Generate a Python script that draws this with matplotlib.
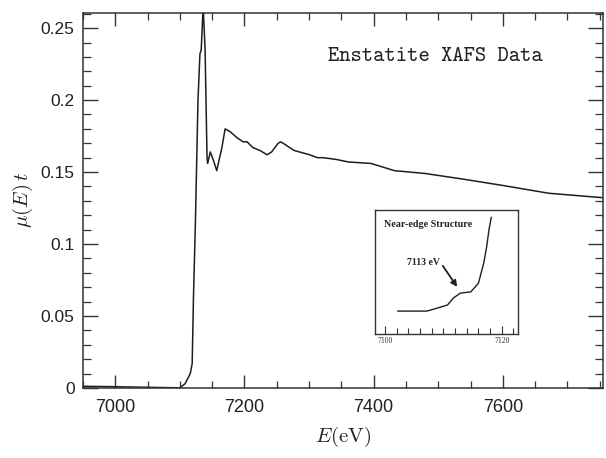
import matplotlib
matplotlib.use("Agg")
import matplotlib.pyplot as plt
from matplotlib.ticker import MultipleLocator, FixedLocator, FixedFormatter

plt.rcParams['mathtext.fontset'] = 'cm'

# Main spectrum (energy in eV, mu(E) t)
energy = [6950, 7000, 7050, 7090, 7100, 7108, 7116, 7119, 7121, 7124, 7128,
          7131, 7133, 7136, 7139, 7142, 7143, 7147, 7152, 7157, 7165, 7170,
          7178, 7188, 7198, 7204, 7213, 7224, 7235, 7242, 7252, 7256, 7260,
          7270, 7277, 7301, 7313, 7322, 7343, 7361, 7396, 7432, 7480, 7540,
          7600, 7671, 7760]
mu_t = [0.0012, 0.0009, 0.0005, 0.0002, 0.0002, 0.003, 0.010, 0.017, 0.063,
        0.115, 0.200, 0.232, 0.235, 0.265, 0.235, 0.160, 0.156, 0.164, 0.158,
        0.151, 0.167, 0.180, 0.178, 0.174, 0.171, 0.171, 0.167, 0.165, 0.162,
        0.164, 0.170, 0.171, 0.170, 0.167, 0.165, 0.162, 0.160, 0.160, 0.1587,
        0.157, 0.156, 0.151, 0.149, 0.145, 0.1407, 0.1353, 0.132]

# Inset: near-edge structure (arbitrary units)
inset_energy = [7102.2, 7107.2, 7109.0, 7110.7, 7111.7, 7112.9, 7114.7,
                7116.0, 7116.9, 7117.4, 7117.8, 7118.2]
inset_signal = [0.185, 0.185, 0.21, 0.234, 0.29, 0.33, 0.34, 0.41, 0.57,
                0.70, 0.84, 0.94]

ytick_vals = [0, 0.05, 0.1, 0.15, 0.2, 0.25]
ytick_labels = ["0", "0.05", "0.1", "0.15", "0.2", "0.25"]
xtick_vals = [7000, 7200, 7400, 7600]
inset_xticks = [7100, 7120]

line_color = "#1e1e1e"

fig = plt.figure(figsize=(6.06, 4.58), dpi=100)
ax = fig.add_axes([0.137, 0.1528, 0.858, 0.8188])
ax.plot(energy, mu_t, color=line_color, lw=1.1)
ax.set_xlim(6950, 7755)
ax.set_ylim(0, 0.2605)

ax.yaxis.set_major_locator(FixedLocator(ytick_vals))
ax.yaxis.set_major_formatter(FixedFormatter(ytick_labels))
ax.yaxis.set_minor_locator(MultipleLocator(0.01))
ax.xaxis.set_major_locator(FixedLocator(xtick_vals))
ax.xaxis.set_minor_locator(MultipleLocator(50))
ax.tick_params(which='both', direction='in', top=True, right=True,
               colors="#333333")
ax.tick_params(axis='x', which='major', length=9.5, width=1.0, pad=8,
               labelsize=13, labelcolor="#222222")
ax.tick_params(axis='x', which='minor', length=5, width=0.9)
ax.tick_params(axis='y', which='major', length=11, width=1.0, pad=6,
               labelsize=12.5, labelcolor="#222222")
ax.tick_params(axis='y', which='minor', length=5.5, width=0.9)
for lab in ax.get_xticklabels() + ax.get_yticklabels():
    lab.set_family('Liberation Sans')
for s in ax.spines.values():
    s.set_linewidth(1.1)
    s.set_color("#333333")

ax.set_xlabel(r'$E(\mathrm{eV})$', fontsize=15, labelpad=6, color="#222222")
ax.set_ylabel(r'$\mu(E)\,t$', fontsize=15, labelpad=4, color="#222222")

ax.text(0.677, 0.885, "Enstatite XAFS Data", family='cmtt10',
        transform=ax.transAxes, fontsize=15.5, ha='center', va='center',
        color="#222222")

# Inset
ins = fig.add_axes([0.619, 0.2707, 0.236, 0.2707])
ins.plot(inset_energy, inset_signal, color=line_color, lw=1.0)
ins.set_xlim(7098.3, 7122.8)
ins.set_ylim(0, 1)
ins.xaxis.set_major_locator(FixedLocator(inset_xticks))
ins.xaxis.set_minor_locator(MultipleLocator(2))
ins.set_yticks([])
ins.tick_params(axis='x', which='both', direction='in', colors="#333333")
ins.tick_params(axis='x', which='major', length=6, width=0.8, pad=2,
                labelsize=5.5)
ins.tick_params(axis='x', which='minor', length=4, width=0.8)
for lab in ins.get_xticklabels():
    lab.set_family('Liberation Serif')
for s in ins.spines.values():
    s.set_linewidth(1.0)
    s.set_color("#333333")
ins.text(0.06, 0.88, "Near-edge Structure", transform=ins.transAxes,
         family="Liberation Serif", fontweight='bold', fontsize=7.3,
         ha='left', va='center', color="#222222")
ins.text(7106.6, 0.575, "7113 eV", family="Liberation Serif",
         fontweight='bold', fontsize=7, ha='center', va='center',
         color="#222222")
ins.annotate("", xy=(7112.35, 0.38), xytext=(7109.9, 0.55),
             arrowprops=dict(arrowstyle='-|>', color="#222222", lw=1.3,
                             mutation_scale=9, shrinkA=0, shrinkB=0))

fig.savefig("out.png", dpi=100)
